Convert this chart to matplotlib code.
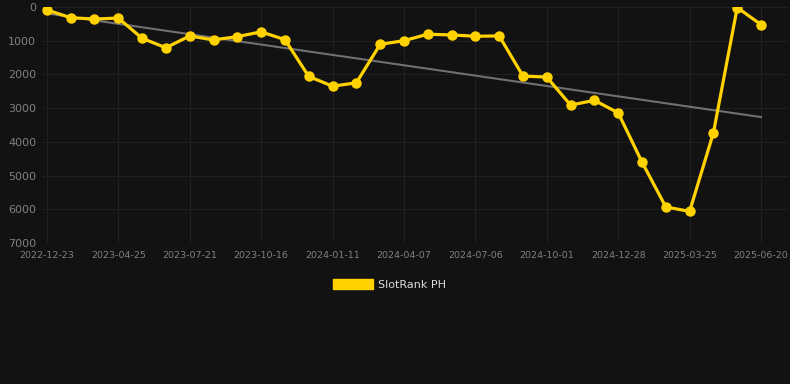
import matplotlib.pyplot as plt
import numpy as np

dates = ["2022-12-23", "", "", "2023-04-25", "", "", "2023-07-21", "", "", "2023-10-16",
         "", "", "2024-01-11", "", "", "2024-04-07", "", "", "2024-07-06", "", "",
         "2024-10-01", "", "", "2024-12-28", "", "", "2025-03-25", "", "", "2025-06-20"]
rank = [90, 320, 360, 330, 930, 1210, 860, 980, 880, 740, 970,
        2060, 2350, 2250, 1110, 1000, 810, 830, 870, 860,
        2050, 2080, 2910, 2770, 3140, 4600, 5930, 6060, 3730, 20, 525]
yticks = [0, 1000, 2000, 3000, 4000, 5000, 6000, 7000]

BG = "#121212"
GOLD = "#FFD200"

x = np.arange(len(rank))
coef = np.polyfit(x, rank, 1)
trend = np.polyval(coef, x)

fig = plt.figure(figsize=(7.9, 3.84), dpi=100, facecolor=BG)
ax = fig.add_axes([0.053, 0.367, 0.945, 0.615], facecolor=BG)

ax.plot(x, trend, color="#707070", lw=1.5, zorder=2)
ax.plot(x, rank, color=GOLD, lw=2.3, marker="o", ms=6.5, zorder=3, label="SlotRank PH")

ax.set_ylim(7000, 0)
ax.set_xlim(-0.21, 31.15)
ax.set_yticks(yticks)
tick_idx = [i for i, d in enumerate(dates) if d]
ax.set_xticks(tick_idx)
ax.set_xticklabels([dates[i] for i in tick_idx])

ax.grid(True, color="#202020", lw=0.8)
for s in ax.spines.values():
    s.set_visible(False)
ax.tick_params(axis="y", colors="#808080", labelsize=8, length=0, pad=4)
ax.tick_params(axis="x", colors="#808080", labelsize=6.8, length=0, pad=6)

handle = plt.Rectangle((0, 0), 1, 1, color=GOLD)
fig.legend([handle], ["SlotRank PH"], loc="center", bbox_to_anchor=(0.493, 0.26),
           frameon=False, fontsize=8, labelcolor="#dddddd",
           handlelength=3.6, handleheight=1.0, handletextpad=0.5)

fig.savefig("out.png", dpi=100, facecolor=BG)
